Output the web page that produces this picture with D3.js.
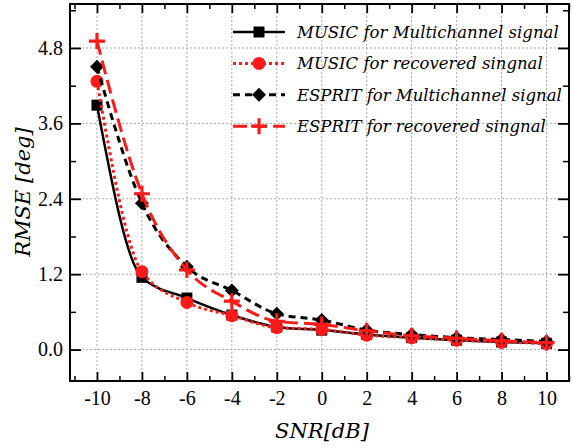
<!DOCTYPE html>
<html><head><meta charset="utf-8">
<script src="https://cdn.jsdelivr.net/npm/d3@7"></script>
<style>body{margin:0;background:#fff}</style>
</head><body>
<svg id="c" width="573" height="448"></svg>
<script>
const snr = [-10,-8,-6,-4,-2,0,2,4,6,8,10];
const musicMulti = [3.89,1.15,0.82,0.55,0.36,0.31,0.24,0.19,0.15,0.12,0.10];
const musicRec   = [4.27,1.24,0.75,0.54,0.35,0.32,0.23,0.19,0.15,0.12,0.10];
const espritMulti= [4.50,2.33,1.32,0.94,0.57,0.47,0.31,0.24,0.19,0.16,0.13];
const espritRec  = [4.91,2.48,1.27,0.77,0.45,0.40,0.30,0.22,0.18,0.14,0.11];
const xTicks = [-10,-8,-6,-4,-2,0,2,4,6,8,10];
const yTicks = [0.0,1.2,2.4,3.6,4.8];
const legendLabels = ["MUSIC for Multichannel signal","MUSIC for recovered singnal","ESPRIT for Multichannel signal","ESPRIT for recovered singnal"];

const svg = d3.select("#c");
const L=70, R=569, T=4, B=381;
const x = d3.scaleLinear().domain([-11.2,11]).range([L,R]);
const y = d3.scaleLinear().domain([-0.5,5.5]).range([B,T]);
const ITAL = "DejaVu Serif";

// grid
const g = svg.append("g");
g.selectAll(".vg").data(xTicks).enter().append("line")
 .attr("x1",d=>x(d)).attr("x2",d=>x(d)).attr("y1",T).attr("y2",B)
 .attr("stroke","#aaa").attr("stroke-width",1).attr("stroke-dasharray","2,2");
g.selectAll(".hg").data(yTicks).enter().append("line")
 .attr("y1",d=>y(d)).attr("y2",d=>y(d)).attr("x1",L).attr("x2",R)
 .attr("stroke","#aaa").attr("stroke-width",1).attr("stroke-dasharray","2,2");

// axes with inward ticks
const xMinor = d3.range(-11,12,1).filter(v=>xTicks.indexOf(v)<0);
const yMinor = [-0.6,0.6,1.8,3.0,4.2,5.4].filter(v=>v>=-0.5&&v<=5.5);
function fmtY(d){return d.toFixed(1);}
const ax = svg.append("g");
ax.append("g").attr("transform",`translate(0,${B})`)
  .call(d3.axisBottom(x).tickValues(xTicks).tickSize(-9).tickSizeOuter(0).tickPadding(10).tickFormat(d=>d))
  .call(s=>{s.select(".domain").remove();s.selectAll("text").attr("font-family","Liberation Serif").attr("font-size",20).attr("fill","#000");s.selectAll("line").attr("stroke-width",1.8);});
ax.append("g").attr("transform",`translate(0,${B})`)
  .call(d3.axisBottom(x).tickValues(xMinor).tickSize(-5).tickSizeOuter(0).tickFormat(""))
  .call(s=>{s.select(".domain").remove();s.selectAll("line").attr("stroke-width",1.5);});
ax.append("g").attr("transform",`translate(0,${T})`)
  .call(d3.axisTop(x).tickValues(xTicks).tickSize(-9).tickSizeOuter(0).tickFormat(""))
  .call(s=>{s.select(".domain").remove();s.selectAll("line").attr("stroke-width",1.8);});
ax.append("g").attr("transform",`translate(0,${T})`)
  .call(d3.axisTop(x).tickValues(xMinor).tickSize(-5).tickSizeOuter(0).tickFormat(""))
  .call(s=>{s.select(".domain").remove();s.selectAll("line").attr("stroke-width",1.5);});
ax.append("g").attr("transform",`translate(${L},0)`)
  .call(d3.axisLeft(y).tickValues(yTicks).tickSize(-11).tickSizeOuter(0).tickPadding(7).tickFormat(fmtY))
  .call(s=>{s.select(".domain").remove();s.selectAll("text").attr("font-family","Liberation Serif").attr("font-size",20).attr("fill","#000");s.selectAll("line").attr("stroke-width",1.8);});
ax.append("g").attr("transform",`translate(${L},0)`)
  .call(d3.axisLeft(y).tickValues(yMinor).tickSize(-6).tickSizeOuter(0).tickFormat(""))
  .call(s=>{s.select(".domain").remove();s.selectAll("line").attr("stroke-width",1.5);});
ax.append("g").attr("transform",`translate(${R},0)`)
  .call(d3.axisRight(y).tickValues(yTicks).tickSize(-11).tickSizeOuter(0).tickFormat(""))
  .call(s=>{s.select(".domain").remove();s.selectAll("line").attr("stroke-width",1.8);});
ax.append("g").attr("transform",`translate(${R},0)`)
  .call(d3.axisRight(y).tickValues(yMinor).tickSize(-6).tickSizeOuter(0).tickFormat(""))
  .call(s=>{s.select(".domain").remove();s.selectAll("line").attr("stroke-width",1.5);});
svg.append("rect").attr("x",L).attr("y",T).attr("width",R-L).attr("height",B-T)
  .attr("fill","none").attr("stroke","#000").attr("stroke-width",2);

// series
const series = [
 {v:musicMulti, color:"#000", dash:null, w:2.5, marker:"square"},
 {v:musicRec, color:"#ff1a1a", dash:"3,3", w:3, marker:"circle"},
 {v:espritMulti, color:"#000", dash:"7,5", w:3, marker:"diamond"},
 {v:espritRec, color:"#ff1a1a", dash:"14,6", w:3, marker:"plus"}
];
const line = d3.line().x((d,i)=>x(snr[i])).y(d=>y(d)).curve(d3.curveMonotoneX);
function drawMarker(sel, type, color){
  if(type==="square") sel.append("rect").attr("x",-5.5).attr("y",-5.5).attr("width",11).attr("height",11).attr("fill",color);
  else if(type==="circle") sel.append("circle").attr("r",6.5).attr("fill",color);
  else if(type==="diamond") sel.append("path").attr("d","M0,-7L7,0L0,7L-7,0Z").attr("fill",color);
  else if(type==="plus") sel.append("path").attr("d","M-8,0H8M0,-8V8").attr("stroke",color).attr("stroke-width",3.2).attr("fill","none");
}
series.forEach(s=>{
  svg.append("path").datum(s.v).attr("d",line).attr("fill","none")
    .attr("stroke",s.color).attr("stroke-width",s.w).attr("stroke-dasharray",s.dash);
  s.v.forEach((d,i)=>{
    const m = svg.append("g").attr("transform",`translate(${x(snr[i])},${y(d)})`);
    drawMarker(m, s.marker, s.color);
  });
});

// legend
const lg = svg.append("g");
series.forEach((s,i)=>{
  const yy = 32 + i*31.4;
  lg.append("line").attr("x1",233).attr("x2",285).attr("y1",yy).attr("y2",yy)
    .attr("stroke",s.color).attr("stroke-width",s.w).attr("stroke-dasharray",s.dash);
  drawMarker(lg.append("g").attr("transform",`translate(259,${yy})`), s.marker, s.color);
  lg.append("text").attr("x",297).attr("y",yy+6).text(legendLabels[i])
    .attr("font-family",ITAL).attr("font-style","italic").attr("font-size",16.5);
});

// axis titles
svg.append("text").attr("x",322).attr("y",438).attr("text-anchor","middle")
  .attr("font-family",ITAL).attr("font-style","italic").attr("font-size",21).text("SNR[dB]");
svg.append("text").attr("transform","translate(30,192) rotate(-90)").attr("text-anchor","middle")
  .attr("font-family",ITAL).attr("font-style","italic").attr("font-size",21).text("RMSE [deg]");
</script>
</body></html>
